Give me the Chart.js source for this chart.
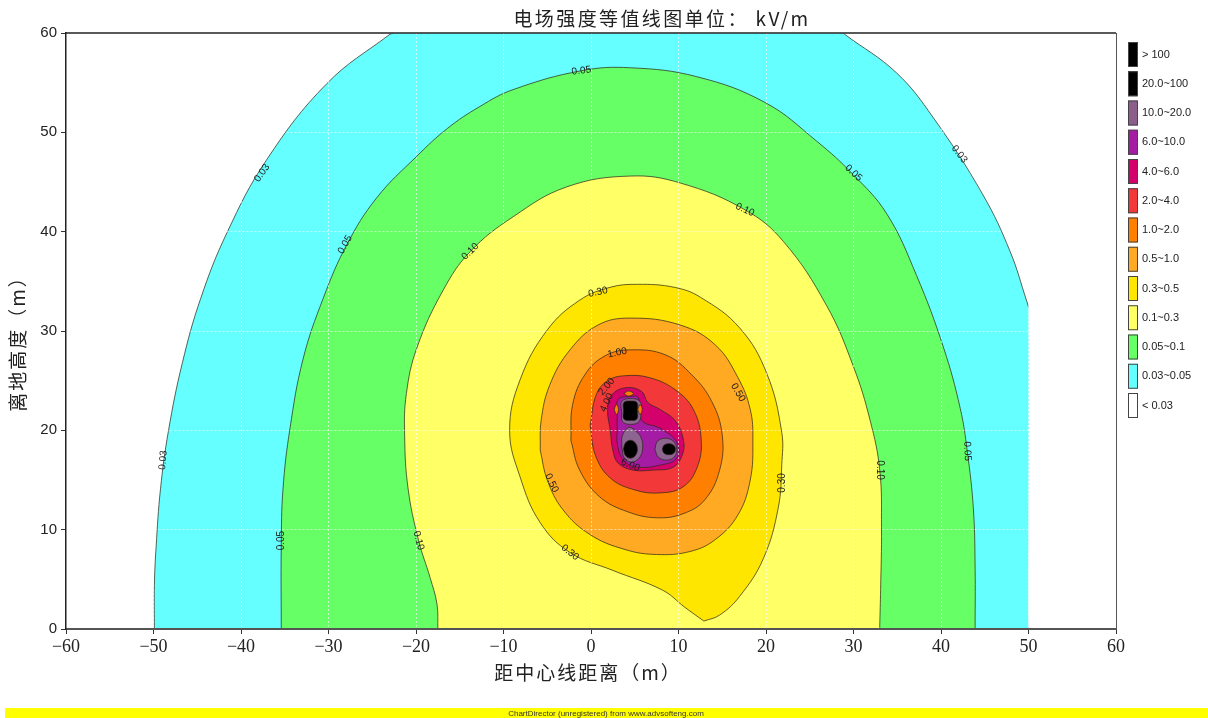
<!DOCTYPE html>
<html>
<head>
<meta charset="utf-8">
<script src="https://cdn.jsdelivr.net/npm/chart.js@4.4.1/dist/chart.umd.min.js"></script>
<style>
  html, body { margin: 0; padding: 0; background: #ffffff; }
  canvas { display: block; }
</style>
</head>
<body>
<canvas id="chart" width="1208" height="718"></canvas>
<script>
// ---- axis ranges ----
const xRange = [-60, 60];
const yRange = [0, 60];

// ---- iso-field outlines, [distance from centre line (m), height (m)] ----
const band003 = [[-49.9,0],[-49.9,4.4],[-49.7,8.3],[-49.2,14.1],[-48.3,19.9],[-46.7,26.8],[-44.6,33.3],[-41.6,39.9],[-37.1,47.2],[-30.2,54.9],[-23.1,59.8],[-22.6,60],[28.8,60],[29.1,59.8],[34.9,56.0],[39.1,51.5],[44.8,43.7],[47.9,38.0],[49.8,33.0],[50,32.4],[50,0.2],[50,0],[-49.9,0]];
const band005 = [[-35.4,0],[-35.4,8.3],[-35.2,14.1],[-34.4,20.2],[-32.9,27.2],[-30.6,33.3],[-27.9,38.7],[-24.5,43.4],[-19.9,47.6],[-16.4,50.4],[-12.7,52.6],[-8.9,54.3],[-1.1,56.2],[4.5,56.5],[12.1,55.6],[19.9,53.0],[25.8,49.1],[29.9,45.8],[33.8,41.8],[37.2,35.6],[40.3,28.3],[42.2,22.2],[43.0,17.9],[43.7,12.1],[43.9,6.0],[43.9,0.3],[43.9,0],[-35.4,0]];
const band010 = [[-17.5,0],[-17.6,2.5],[-18.4,5.2],[-19.7,8.9],[-20.9,14.1],[-21.3,19.5],[-21.1,23.7],[-19.9,28.3],[-16.9,34.1],[-13.8,38.0],[-8.9,41.5],[-2.8,44.5],[4.5,45.6],[10.2,44.9],[17.6,42.2],[22.0,39.0],[26.9,32.6],[30.0,26.4],[31.9,21.0],[33.0,16.0],[33.2,10.2],[33.1,4.0],[33.0,0.3],[33.0,0],[-17.5,0]];
const band030 = [[12.9,0.8],[14.7,1.4],[17.0,3.3],[19.7,7.1],[21.4,12.2],[21.8,16.5],[21.8,19.8],[20.1,25.7],[17.0,30.3],[12.5,33.4],[9.5,34.4],[5.3,34.7],[2.2,34.4],[-1.3,33.1],[-5.0,30.1],[-8.1,25.1],[-9.3,20.0],[-8.1,15.3],[-5.8,10.7],[-2.4,7.7],[2.5,5.9],[8.2,3.9],[10.7,2.2],[12.9,0.8]];
const band050 = [[-5.8,18.0],[-5.7,21.0],[-4.7,24.6],[-2.4,28.1],[0.8,30.6],[4.5,31.3],[10.2,30.6],[14.2,28.6],[16.8,25.3],[18.2,22.1],[18.5,19.0],[18.2,15.0],[16.8,11.5],[14.2,9.0],[11.3,7.8],[7.5,7.5],[3.9,8.0],[-0.1,9.5],[-3.2,12.0],[-5.0,15.0],[-5.8,18.0]];
const band100 = [[-2.3,19.0],[-2.1,22.6],[-0.7,25.6],[1.6,27.5],[4.5,28.1],[8.5,27.6],[11.5,25.6],[13.8,22.9],[15.0,19.5],[14.7,16.0],[13.0,13.0],[10.5,11.6],[7.5,11.2],[4.2,11.8],[1.0,13.3],[-1.3,16.0],[-2.3,19.0]];
const band200 = [[-0.1,20.5],[0.6,23.6],[1.9,25.0],[3.9,25.5],[6.7,25.3],[9.6,24.1],[11.7,22.1],[12.6,19.0],[12.1,16.2],[10.5,14.3],[7.9,13.7],[5.0,14.0],[2.2,15.2],[0.5,17.5],[-0.1,20.5]];
const band400 = [[2.2,20.0],[1.9,22.1],[2.4,23.6],[4.1,24.3],[5.8,23.9],[6.5,22.8],[7.9,22.1],[9.6,21.0],[10.5,19.3],[10.5,17.7],[9.4,16.3],[7.1,16.0],[4.8,16.0],[3.1,16.7],[2.5,18.0],[2.2,20.0]];
const band600 = [[3.0,20.0],[3.0,21.3],[3.1,23.1],[4.4,23.4],[5.4,23.3],[5.8,21.0],[7.9,20.2],[9.8,18.8],[9.8,17.2],[7.9,16.5],[5.3,16.3],[3.7,17.0],[3.0,18.7],[3.0,20.0]];
const gray10Top   = [[3.5,21.9],[3.5,22.9],[4.5,23.2],[5.6,22.9],[5.7,21.9],[5.5,20.9],[4.5,20.6],[3.6,20.9],[3.5,21.9]];
const gray10Left  = [[3.5,18.5],[3.6,19.5],[4.3,20.3],[5.0,20.0],[5.7,19.3],[5.9,18.2],[5.5,17.2],[4.6,16.8],[3.8,17.2],[3.5,18.5]];
const gray10Right = [[7.3,18.1],[7.6,18.9],[8.5,19.2],[9.4,18.9],[9.8,18.1],[9.5,17.3],[8.6,17.0],[7.7,17.3],[7.3,18.1]];
const black20Top   = [[3.7,22.0],[3.75,22.8],[4.5,22.95],[5.25,22.8],[5.3,22.0],[5.25,21.15],[4.5,21.0],[3.75,21.15],[3.7,22.0]];
const black20Left  = [[3.7,18.1],[3.95,18.75],[4.5,19.0],[5.05,18.75],[5.3,18.1],[5.05,17.45],[4.5,17.2],[3.95,17.45],[3.7,18.1]];
const black20Right = [[8.15,18.1],[8.35,18.5],[8.9,18.65],[9.45,18.5],[9.65,18.1],[9.45,17.7],[8.9,17.55],[8.35,17.7],[8.15,18.1]];
const orange1Top   = [[3.75,23.7],[4.3,23.95],[4.85,23.7],[4.3,23.45],[3.75,23.7]];
const orange1Left  = [[2.65,22.1],[2.9,22.6],[3.15,22.1],[2.9,21.6],[2.65,22.1]];
const orange1Right = [[5.35,22.1],[5.6,22.6],[5.85,22.1],[5.6,21.6],[5.35,22.1]];

// outlines drawn from the outside in, with the fill of each band
const bandShapes = [band003, band005, band010, band030, band050, band100, band200, band400, band600,
                    gray10Top, gray10Left, gray10Right, black20Top, black20Left, black20Right,
                    orange1Top, orange1Left, orange1Right];
const bandFills  = ['#66FFFF', '#66FF66', '#FFFF66', '#FFE600', '#FFAA22', '#FF7F00', '#F23838', '#D4006C', '#A41CA4',
                    '#8E6490', '#8E6490', '#8E6490', '#000000', '#000000', '#000000',
                    '#FF7F00', '#FF7F00', '#FF7F00'];

// ---- in-line contour labels ----
const lineLabels     = ['0.05', '0.03', '0.03', '0.03', '0.05', '0.05', '0.05', '0.05', '0.10', '0.10', '0.10', '0.10', '0.30', '0.30', '0.30', '0.50', '0.50', '1.00', '2.00', '4.00', '6.00'];
const lineLabelX     = [-1.1, -37.6, 42.1, -48.9, -28.1, 30.0, 43.0, -35.4, -13.8, 17.6, 33.0, -19.7, 0.8, 21.8, -2.4, 16.8, -4.5, 3.0, 1.8, 1.8, 4.5];
const lineLabelY     = [56.2, 45.9, 47.8, 17.0, 38.7, 45.9, 17.9, 8.9, 38.0, 42.2, 16.0, 8.9, 33.9, 14.7, 7.7, 23.8, 14.7, 27.8, 24.4, 22.8, 16.5];
const lineLabelAngle = [-8, -55, 52, -85, -60, 42, 88, -90, -45, 25, 90, 75, -12, -90, 38, 60, 65, -12, -50, -65, 22];

// ---- legend ----
const legendLabels = ['> 100', '20.0~100', '10.0~20.0', '6.0~10.0', '4.0~6.0', '2.0~4.0', '1.0~2.0', '0.5~1.0', '0.3~0.5', '0.1~0.3', '0.05~0.1', '0.03~0.05', '< 0.03'];
const legendColors = ['#000000', '#000000', '#8B5E8B', '#A41CA4', '#D4006C', '#F23838', '#FF7F00', '#FFAA22', '#FFE600', '#FFFF66', '#66FF66', '#66FFFF', '#FFFFFF'];

const chartTitle = '电场强度等值线图单位： kV/m';
const xTitle = '距中心线距离（m）';
const yTitle = '离地高度（m）';
const footerText = 'ChartDirector (unregistered) from www.advsofteng.com';

// ---- build datasets ----
const CONTOUR_LINE = 'rgba(45,40,25,0.72)';
const onDomainEdge = (a, b) =>
  (a[1] <= 0 && b[1] <= 0) || (a[1] >= 60 && b[1] >= 60) || (Math.abs(a[0]) >= 50 && Math.abs(b[0]) >= 50);
const toXY = pts => pts.map(([x, y]) => ({ x, y }));
const common = { pointRadius: 0, pointHoverRadius: 0, tension: 0.4, showLine: true };

const datasets = [];
bandShapes.forEach((pts, i) => {
  const order = 1000 - i * 10;
  // split the outline into runs that are real iso-lines (not the domain border)
  const runs = [];
  let cur = [pts[0]];
  let hasEdge = false;
  for (let k = 1; k < pts.length; k++) {
    if (onDomainEdge(pts[k - 1], pts[k])) {
      hasEdge = true;
      if (cur.length > 1) runs.push(cur);
      cur = [pts[k]];
    } else {
      cur.push(pts[k]);
    }
  }
  if (cur.length > 1) runs.push(cur);

  datasets.push(Object.assign({}, common, {
    data: toXY(pts),
    fill: 'shape',
    backgroundColor: bandFills[i],
    borderColor: hasEdge ? 'rgba(0,0,0,0)' : CONTOUR_LINE,
    borderWidth: hasEdge ? 0 : 1,
    order
  }));
  if (hasEdge) {
    runs.forEach(r => datasets.push(Object.assign({}, common, {
      data: toXY(r),
      fill: false,
      borderColor: CONTOUR_LINE,
      borderWidth: 1,
      order: order - 1
    })));
  }
});

// ---- decorations: frame, contour labels, titles, legend, footer ----
const decor = {
  id: 'decor',
  afterDraw(chart) {
    const ctx = chart.ctx;
    const a = chart.chartArea;
    const xs = chart.scales.x, ys = chart.scales.y;

    // top and right frame lines
    ctx.save();
    ctx.strokeStyle = '#222';
    ctx.lineWidth = 1.5;
    ctx.beginPath();
    ctx.moveTo(a.left, a.top);
    ctx.lineTo(a.right, a.top);
    ctx.stroke();
    ctx.strokeStyle = '#555';
    ctx.lineWidth = 1;
    ctx.beginPath();
    ctx.moveTo(a.right + 0.5, a.top);
    ctx.lineTo(a.right + 0.5, a.bottom);
    ctx.stroke();
    ctx.restore();

    // contour labels
    ctx.save();
    ctx.font = '10px "Liberation Sans", Arial, sans-serif';
    ctx.fillStyle = '#1c1c1c';
    ctx.textAlign = 'center';
    ctx.textBaseline = 'middle';
    lineLabels.forEach((t, i) => {
      const px = xs.getPixelForValue(lineLabelX[i]);
      const py = ys.getPixelForValue(lineLabelY[i]);
      ctx.save();
      ctx.translate(px, py);
      ctx.rotate(lineLabelAngle[i] * Math.PI / 180);
      ctx.fillText(t, 0, 0);
      ctx.restore();
    });
    ctx.restore();

    // chart title
    ctx.save();
    ctx.fillStyle = '#222';
    ctx.font = '19px "Noto Sans CJK SC", sans-serif';
    ctx.letterSpacing = '2.4px';
    ctx.textAlign = 'center';
    ctx.textBaseline = 'middle';
    ctx.fillText(chartTitle, 662, 19);
    ctx.restore();

    // axis titles
    ctx.save();
    ctx.fillStyle = '#222';
    ctx.font = '19px "Noto Sans CJK SC", sans-serif';
    ctx.letterSpacing = '2px';
    ctx.textAlign = 'center';
    ctx.textBaseline = 'middle';
    ctx.fillText(xTitle, 588, 673);
    ctx.translate(18, 339);
    ctx.rotate(-Math.PI / 2);
    ctx.fillText(yTitle, 0, 0);
    ctx.restore();

    // legend
    ctx.save();
    ctx.font = '11px "Liberation Sans", Arial, sans-serif';
    ctx.textAlign = 'left';
    ctx.textBaseline = 'middle';
    legendLabels.forEach((t, i) => {
      const top = 42 + i * 29.25;
      ctx.fillStyle = legendColors[i];
      ctx.fillRect(1128, top, 9.5, 25);
      ctx.strokeStyle = '#444';
      ctx.lineWidth = 1;
      ctx.strokeRect(1128.5, top + 0.5, 9, 24);
      ctx.fillStyle = '#222';
      ctx.fillText(t, 1142, top + 12.5);
    });
    ctx.restore();

    // footer strip
    ctx.save();
    ctx.fillStyle = '#FFFF00';
    ctx.fillRect(5, 708, 1203, 10);
    ctx.fillStyle = '#333';
    ctx.font = '8px "Liberation Sans", Arial, sans-serif';
    ctx.textAlign = 'center';
    ctx.textBaseline = 'middle';
    ctx.fillText(footerText, 606, 713.5);
    ctx.restore();
  }
};

const minusSign = v => (v < 0 ? '\u2212' + Math.abs(v) : String(v));

new Chart(document.getElementById('chart'), {
  type: 'line',
  data: { datasets },
  options: {
    responsive: false,
    devicePixelRatio: 1,
    animation: false,
    events: [],
    layout: { padding: { left: 0, top: 33, right: 92, bottom: 0 } },
    plugins: { legend: { display: false }, tooltip: { enabled: false }, title: { display: false } },
    scales: {
      x: {
        type: 'linear',
        min: xRange[0], max: xRange[1],
        afterFit: s => { s.height = 89; },
        ticks: {
          stepSize: 10, autoSkip: false, maxRotation: 0, padding: 2,
          color: '#222',
          font: { family: '"Liberation Serif", "Times New Roman", serif', size: 18 },
          callback: v => minusSign(v)
        },
        grid: { color: 'rgba(255,255,255,0.6)', lineWidth: 1, z: 1, tickColor: '#333', tickLength: 5 },
        border: { display: true, color: '#555', width: 2, dash: [2, 2], z: 2 }
      },
      y: {
        type: 'linear',
        min: yRange[0], max: yRange[1],
        afterFit: s => { s.width = 66; },
        ticks: {
          stepSize: 10, padding: 4,
          color: '#222',
          font: { family: '"Liberation Sans", Arial, sans-serif', size: 15 }
        },
        grid: { color: 'rgba(255,255,255,0.6)', lineWidth: 1, z: 1, tickColor: '#333', tickLength: 5 },
        border: { display: true, color: '#222', width: 1.5, dash: [2, 2], z: 2 }
      }
    }
  },
  plugins: [decor]
});
</script>
</body>
</html>
